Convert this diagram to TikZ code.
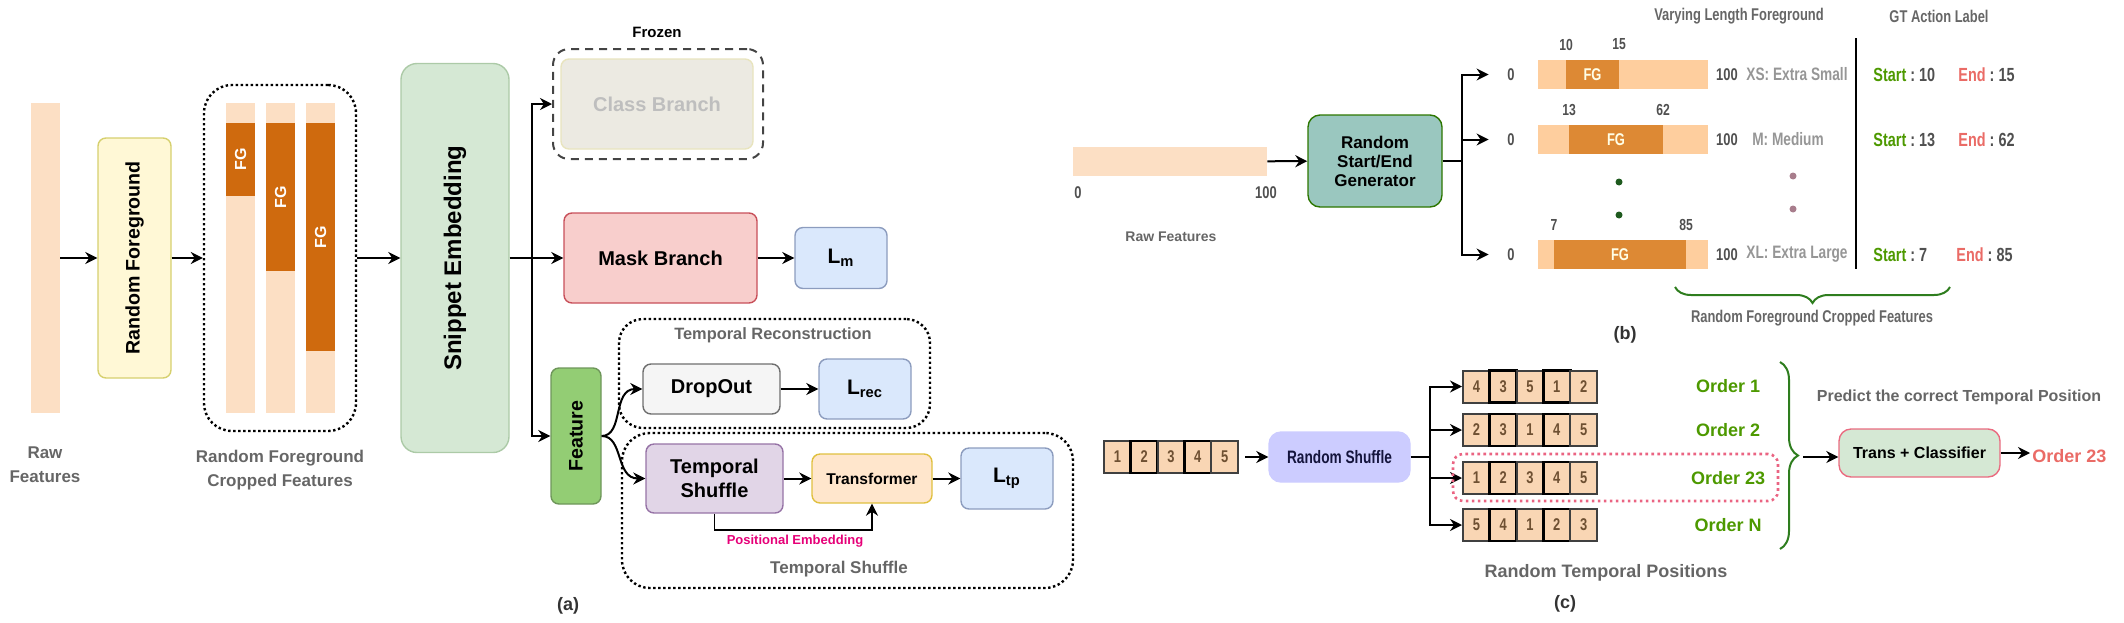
\documentclass[tikz,border=0pt]{standalone}
\usepackage{fontspec}
\setmainfont{Liberation Sans}
\newfontfamily\narrowfont{Liberation Sans Bold}[FakeStretch=0.76]
\usetikzlibrary{arrows.meta,decorations.pathreplacing}

\definecolor{rawpeach}{RGB}{252,223,196}
\definecolor{fgdark}{RGB}{207,106,14}
\definecolor{barpeach}{RGB}{254,206,158}
\definecolor{fgmid}{RGB}{221,137,52}
\definecolor{labelgray}{RGB}{102,102,102}
\definecolor{numgray}{RGB}{80,80,80}
\definecolor{sizegray}{RGB}{150,150,150}
\definecolor{startgreen}{RGB}{77,153,0}
\definecolor{endpink}{RGB}{234,107,102}
\definecolor{posepink}{RGB}{230,0,120}
\definecolor{bracegreen}{RGB}{46,125,30}
\definecolor{dotgreen}{RGB}{30,90,30}
\definecolor{dotmauve}{RGB}{168,125,140}
\definecolor{cellfill}{RGB}{249,214,180}
\definecolor{cellnum}{RGB}{110,80,50}
\definecolor{rfgfill}{RGB}{255,248,214}
\definecolor{rfgline}{RGB}{214,208,110}
\definecolor{snipfill}{RGB}{213,232,212}
\definecolor{snipline}{RGB}{172,202,167}
\definecolor{frzline}{RGB}{68,68,68}
\definecolor{clsfill}{RGB}{236,234,226}
\definecolor{clsline}{RGB}{232,228,190}
\definecolor{clstext}{RGB}{190,190,190}
\definecolor{maskfill}{RGB}{248,206,204}
\definecolor{maskline}{RGB}{200,80,90}
\definecolor{lossfill}{RGB}{218,232,252}
\definecolor{lossline}{RGB}{140,156,190}
\definecolor{featfill}{RGB}{147,205,116}
\definecolor{featline}{RGB}{110,150,90}
\definecolor{dropfill}{RGB}{245,245,245}
\definecolor{dropline}{RGB}{110,110,110}
\definecolor{tsfill}{RGB}{225,213,231}
\definecolor{tsline}{RGB}{150,115,166}
\definecolor{trfill}{RGB}{255,230,204}
\definecolor{trline}{RGB}{224,192,64}
\definecolor{genfill}{RGB}{154,199,191}
\definecolor{genline}{RGB}{45,118,0}
\definecolor{rsfill}{RGB}{204,204,255}
\definecolor{rstext}{RGB}{20,20,60}
\definecolor{tcfill}{RGB}{213,232,212}
\definecolor{tcline}{RGB}{234,107,128}
\definecolor{hlpink}{RGB}{234,100,130}

\begin{document}
\begin{tikzpicture}[x=0.5pt,y=-0.5pt,
  sz/.style 2 args={minimum width=(#1)*0.5pt,minimum height=(#2)*0.5pt},
  arr/.style={-{Stealth[length=6pt,width=6pt]},line width=1pt},
  box/.style={draw,rounded corners=4pt,line width=0.7pt,inner sep=0pt,align=center,font=\bfseries\fontsize{10}{12}\selectfont},
  lossbox/.style={box,fill=lossfill,draw=lossline,font=\bfseries\fontsize{10.5}{12}\selectfont},
  lbl/.style={text=labelgray,align=center,inner sep=1pt,font=\bfseries\fontsize{8.5}{12}\selectfont},
  nlbl/.style={inner sep=1pt,font=\narrowfont\fontsize{8.5}{10}\selectfont},
  caplbl/.style={inner sep=1pt,text=black!80,font=\bfseries\fontsize{9}{10}\selectfont},
  bar/.style={fill=rawpeach,inner sep=0pt},
  fgseg/.style={fill=fgdark,inner sep=0pt,text=white,font=\bfseries\fontsize{8}{8}\selectfont},
  cell/.style={draw=black!75,fill=cellfill,line width=1pt,inner sep=0pt,sz={26.8}{32},text=cellnum,font=\narrowfont\fontsize{8.5}{9}\selectfont},
  cellb/.style={},
  dotbox/.style={draw,rounded corners=8pt,line width=1.2pt,dash pattern=on 1.2pt off 1.3pt,inner sep=0pt},
]
\useasboundingbox (0,0) rectangle (2124,622);

% (a) pipeline
\node[bar,sz={29}{310}] (rawa) at (45.5,258) {};
\node[lbl] (rawalbl) at (45,465) {Raw\\Features};
\node[box,sz={73}{240},fill=rfgfill,draw=rfgline,font=\bfseries\fontsize{9.8}{12}\selectfont] (rfg) at (134.5,258) {\rotatebox{90}{Random Foreground}};
\node[dotbox,sz={152}{346},rounded corners=14pt] (crop) at (280,258) {};
\foreach \x/\b [count=\i] in {240.5/196,280.5/271,320.5/351} {
  \node[bar,sz={29}{310}] (crop\i) at (\x,258) {};
  \node[fgseg,sz={29}{\b-123}] (fg\i) at (\x,{(123+\b)/2}) {\rotatebox{90}{FG}};
}
\node[lbl] (croplbl) at (280,470) {Random Foreground\\Cropped Features};
\node[box,sz={108}{389},rounded corners=8pt,fill=snipfill,draw=snipline,font=\bfseries\fontsize{12}{14}\selectfont] (snip) at (455,258) {\rotatebox{90}{Snippet Embedding}};
\draw[arr] (rawa) -- (rfg);
\draw[arr] (rfg) -- (crop);
\draw[arr] (crop) -- (snip);

\node[font=\bfseries\fontsize{7.5}{9}\selectfont] (frozen) at (657,32) {Frozen};
\node[draw=frzline,dash pattern=on 4pt off 3pt,line width=1pt,rounded corners=8pt,sz={210}{110}] (frz) at (658,104) {};
\node[box,sz={192}{90},fill=clsfill,draw=clsline,text=clstext] (cls) at (657,104) {Class Branch};
\node[box,sz={193}{90},fill=maskfill,draw=maskline] (mask) at (660.5,258) {Mask Branch};
\node[lossbox,sz={92}{61}] (lm) at (841,258) {L\textsubscript{m}};
\node[box,sz={50}{136},fill=featfill,draw=featline,font=\bfseries\fontsize{9.8}{12}\selectfont] (feat) at (576,436) {\rotatebox{90}{Feature}};
\coordinate (asplit) at (532,258);
\draw[arr] (snip) -- (mask);
\draw[arr] (asplit) |- (frz.west);
\draw[arr] (asplit) |- (feat.west);
\draw[arr] (mask) -- (lm);

\node[dotbox,sz={311}{109},rounded corners=12pt] (recgrp) at (774.5,373.5) {};
\node[lbl,font=\bfseries\fontsize{8.2}{10}\selectfont] (recgrplbl) at (773,335) {Temporal Reconstruction};
\node[box,sz={137}{50},fill=dropfill,draw=dropline] (drop) at (711.5,389) {DropOut};
\node[lossbox,sz={92}{60}] (lrec) at (865,389) {L\textsubscript{rec}};
\node[dotbox,sz={451}{155},rounded corners=14pt] (shufgrp) at (847.5,510.5) {};
\node[lbl] (shufgrplbl) at (839,569) {Temporal Shuffle};
\node[box,sz={137}{69},fill=tsfill,draw=tsline] (tshuf) at (714.5,478.5) {Temporal\\Shuffle};
\node[box,sz={120}{49},fill=trfill,draw=trline,font=\bfseries\fontsize{7.8}{9}\selectfont] (trans) at (872,478.5) {Transformer};
\node[lossbox,sz={92}{61}] (ltp) at (1007,478.5) {L\textsubscript{tp}};
\draw[arr] (feat.east) .. controls +(22,0) and +(-30,0) .. (drop.west);
\draw[arr] (feat.east) .. controls +(22,0) and +(-30,0) .. (tshuf.west);
\draw[arr] (drop) -- (lrec);
\draw[arr] (tshuf) -- (trans);
\draw[arr] (trans) -- (ltp);
\draw[arr,line width=0.8pt] (tshuf.south) -- ++(0,16) -| (trans.south);
\node[text=posepink,font=\bfseries\fontsize{6.5}{8}\selectfont] (poslbl) at (795,541) {Positional Embedding};
\node[caplbl] (capa) at (568,606) {(a)};

% (b) varying length foreground
\node[bar,sz={194}{29}] (rawb) at (1170,161.5) {};
\node[nlbl,text=numgray] (rawb0) at (1078,193) {0};
\node[nlbl,text=numgray] (rawb100) at (1266,193) {100};
\node[lbl,font=\bfseries\fontsize{7}{8}\selectfont] (rawblbl) at (1171,237) {Raw Features};
\node[box,sz={134}{92},rounded corners=6pt,fill=genfill,draw=genline,font=\bfseries\fontsize{8.5}{9.5}\selectfont] (gen) at (1375,161) {Random\\Start/End\\Generator};
\coordinate (bsplit) at (1462,161);
\draw[arr] (rawb) -- (gen);
\draw[line width=1pt] (gen) -- (bsplit);
\node[nlbl,text=labelgray] (vlfhead) at (1739,16) {Varying Length Foreground};
\node[nlbl,text=labelgray] (gthead) at (1939,16) {GT Action Label};
\foreach \y/\s/\e/\sv/\ev/\lx/\nm/\ex [count=\i] in {74.5/1566/1619/10/15/1797/XS: Extra Small/1956, 139.5/1569/1663/13/62/1788/M: Medium/1956, 254.5/1554/1686/7/85/1797/XL: Extra Large/1954} {
  \node[bar,fill=barpeach,sz={170}{29}] (row\i) at (1623,\y) {};
  \node[fgseg,fill=fgmid,sz={\e-\s}{29},text=white!90!yellow,font=\narrowfont\fontsize{8.5}{9}\selectfont] (rowfg\i) at ({(\s+\e)/2},\y) {FG};
  \node[nlbl,text=numgray] (rowzero\i) at (1511,\y) {0};
  \node[nlbl,text=numgray] (rowhund\i) at (1727,\y) {100};
  \node[nlbl,text=numgray,font=\narrowfont\fontsize{8}{9}\selectfont] (rowsv\i) at (\s,\y-30) {\sv};
  \node[nlbl,text=numgray,font=\narrowfont\fontsize{8}{9}\selectfont] (rowev\i) at (\e,\y-30) {\ev};
  \node[nlbl,text=sizegray,font=\narrowfont\fontsize{9}{10}\selectfont] (rowsize\i) at (\lx,\y) {\nm};
  \node[nlbl,anchor=west,font=\narrowfont\fontsize{9.5}{10}\selectfont] (rowstart\i) at (1871,\y) {\textcolor{startgreen}{Start}~\textcolor{numgray}{:~\sv}};
  \node[nlbl,anchor=west,font=\narrowfont\fontsize{9.5}{10}\selectfont] (rowend\i) at (\ex,\y) {\textcolor{endpink}{End}~\textcolor{numgray}{:~\ev}};
  \draw[arr] (bsplit) |- ([xshift=-24.5pt]row\i.west);
}
\draw[line width=1pt] (1856,38) -- (1856,269);
\fill[dotgreen] (1619,182) circle (3.5) (1619,215) circle (3.5);
\fill[dotmauve] (1793,176) circle (3.5) (1793,209) circle (3.5);
\draw[bracegreen,line width=1pt,decorate,decoration={brace,amplitude=8pt}] (1950,287) -- (1675,287);
\node[nlbl,text=labelgray] (brlbl) at (1812,318) {Random Foreground Cropped Features};
\node[caplbl] (capb) at (1625,335) {(b)};

% (c) temporal shuffle
\foreach \v in {1,...,5} {
  \ifodd\v\relax\else\tikzset{cellb/.style={draw=black,line width=1.4pt}}\fi
  \node[cell,cellb] (in\v) at ({1117.4+26.8*(\v-1)},457) {\v};
}
\node[box,sz={141}{50},rounded corners=6pt,fill=rsfill,draw=rsfill,text=rstext,font=\narrowfont\fontsize{9}{10}\selectfont] (rshuf) at (1339.5,457) {Random Shuffle};
\coordinate (csplit) at (1430,457);
\draw[arr,shorten <=3pt] (in5) -- (rshuf);
\draw[line width=1pt] (rshuf) -- (csplit);
\foreach \y/\seq/\ord [count=\row] in {386.5/{4,3,5,1,2}/1, 430/{2,3,1,4,5}/2, 478/{1,2,3,4,5}/23, 525/{5,4,1,2,3}/N} {
  \foreach \v [count=\k] in \seq {
    \ifodd\k\relax\else\tikzset{cellb/.style={draw=black,line width=1.4pt}}\fi
    \node[cell,cellb] (s\row-\k) at ({1476.4+26.8*(\k-1)},\y) {\v};
  }
  \draw[arr] (csplit) |- (s\row-1.west);
  \node[text=startgreen,font=\bfseries\fontsize{9}{10}\selectfont] (ord\row) at (1728,\y) {Order \ord};
}
\node[draw=hlpink,line width=1.3pt,dash pattern=on 1.3pt off 1.7pt,rounded corners=5pt,sz={325}{47}] (hl) at (1615.5,477.5) {};
\draw[bracegreen,line width=1pt,decorate,decoration={brace,amplitude=9pt}] (1780,362) -- (1780,549);
\coordinate (ctip) at (1803,457);
\node[lbl,font=\bfseries\fontsize{9}{10}\selectfont] (rtplbl) at (1606,573) {Random Temporal Positions};
\node[caplbl] (capc) at (1565,604) {(c)};
\node[lbl,font=\bfseries\fontsize{8}{10}\selectfont] (predlbl) at (1959,397) {Predict the correct Temporal Position};
\node[box,sz={161}{48},rounded corners=6pt,fill=tcfill,draw=tcline,font=\bfseries\fontsize{8}{10}\selectfont] (tc) at (1919.5,453) {Trans + Classifier};
\node[anchor=west,inner sep=1pt,text=endpink,font=\bfseries\fontsize{9}{10}\selectfont] (outord) at (2030,456) {Order 23};
\draw[arr] (ctip) -- (ctip -| tc.west);
\draw[arr] (tc.east) -- (tc.east -| outord.west);
\end{tikzpicture}
\end{document}
